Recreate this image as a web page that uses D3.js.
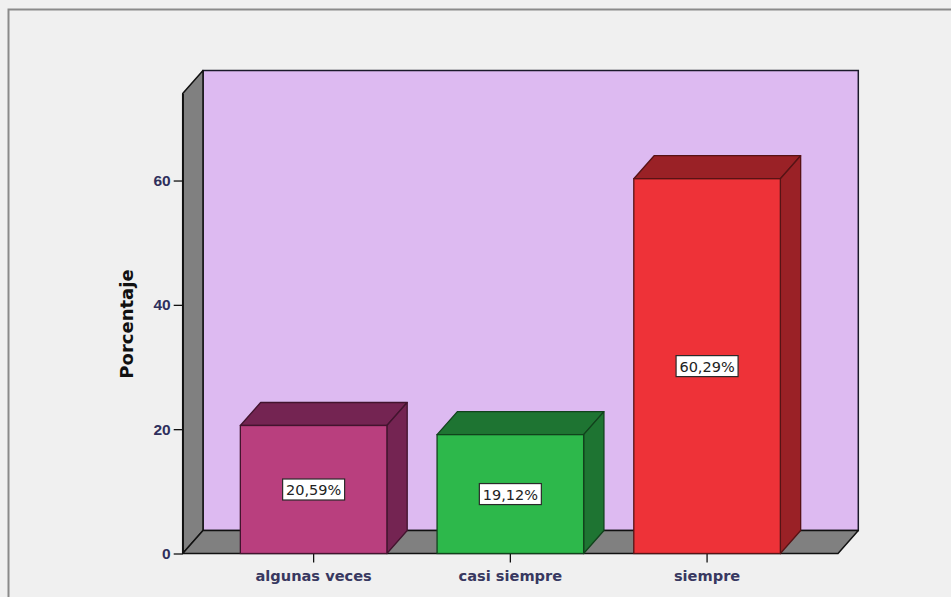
<!DOCTYPE html>
<html>
<head>
<meta charset="utf-8">
<script src="https://cdn.jsdelivr.net/npm/d3@7/dist/d3.min.js"></script>
<style>
  html, body { margin: 0; padding: 0; background: #f0f0f0; }
  svg { display: block; }
</style>
</head>
<body>
<script>
// Category data
const categories = ["algunas veces", "casi siempre", "siempre"];
const percentages = [20.59, 19.12, 60.29];
const frontColors = ["#b93f7e", "#2db84b", "#ee3238"];
const shadeColors = ["#742452", "#1e7432", "#9a2126"];
const yTicks = [0, 20, 40, 60];
const yMax = 74;

const W = 951, H = 597;
// plot box (front plane) and 3D depth offset
const plot = { left: 182.7, right: 838, top: 93.5, bottom: 553.5 };
const depth = { dx: 20.3, dy: 23 };

const svg = d3.select("body").append("svg")
  .attr("width", W).attr("height", H);

// outer frame
svg.append("rect")
  .attr("x", 8.5).attr("y", 9.5)
  .attr("width", W + 20).attr("height", H + 20)
  .attr("fill", "#f0f0f0")
  .attr("stroke", "#8a8a8a").attr("stroke-width", 2);

const x = d3.scaleBand()
  .domain(categories)
  .range([plot.left, plot.right])
  .paddingInner(0.255)
  .paddingOuter(0.293);

const y = d3.scaleLinear()
  .domain([0, yMax])
  .range([plot.bottom, plot.top]);

const dx = depth.dx, dy = depth.dy;
const y0 = y(0), yTop = y(yMax);
const line = d3.line();

// back wall
svg.append("rect")
  .attr("x", plot.left + dx).attr("y", yTop - dy)
  .attr("width", plot.right - plot.left).attr("height", y0 - yTop)
  .attr("fill", "#ddbaf1").attr("stroke", "#1a1a2a").attr("stroke-width", 1.5);

// left wall
svg.append("path")
  .attr("d", line([[plot.left, y0], [plot.left, yTop], [plot.left + dx, yTop - dy], [plot.left + dx, y0 - dy]]) + "Z")
  .attr("fill", "#808080").attr("stroke", "#111").attr("stroke-width", 1.5)
  .attr("stroke-linejoin", "round");

// floor
svg.append("path")
  .attr("d", line([[plot.left, y0], [plot.left + dx, y0 - dy], [plot.right + dx, y0 - dy], [plot.right, y0]]) + "Z")
  .attr("fill", "#808080").attr("stroke", "#111").attr("stroke-width", 1.5)
  .attr("stroke-linejoin", "round");

// y axis along the front edge of the left wall
const yAxis = d3.axisLeft(y).tickValues(yTicks).tickSize(9).tickSizeOuter(0)
  .tickPadding(3).tickFormat(d3.format("d"));
const yg = svg.append("g").attr("transform", `translate(${plot.left},0)`).call(yAxis);
yg.select(".domain").attr("stroke", "#111").attr("stroke-width", 1.5);
yg.selectAll(".tick line").attr("stroke", "#111").attr("stroke-width", 1.3);
yg.selectAll(".tick text")
  .attr("fill", "#2f2f5c")
  .style("font-family", "'Liberation Sans', Arial, sans-serif")
  .style("font-weight", "bold")
  .style("font-size", "15.5px");

// x axis along the front floor edge
const xAxis = d3.axisBottom(x).tickSize(9).tickSizeOuter(0).tickPadding(8);
const xg = svg.append("g").attr("transform", `translate(0,${y0})`).call(xAxis);
xg.select(".domain").remove();
xg.selectAll(".tick line").attr("stroke", "#111").attr("stroke-width", 1.3);
xg.selectAll(".tick text")
  .attr("fill", "#383860")
  .style("font-family", "'DejaVu Sans', Verdana, sans-serif")
  .style("font-weight", "bold")
  .style("font-size", "14.6px");

// bars
const bars = svg.append("g").selectAll("g.bar")
  .data(categories.map((c, i) => ({ c, v: percentages[i], i })))
  .join("g").attr("class", "bar");

bars.each(function(d) {
  const g = d3.select(this);
  const x0 = x(d.c), x1 = x0 + x.bandwidth(), yv = y(d.v);
  const edge = d3.color(shadeColors[d.i]).darker(1.6).formatHex();
  // top face
  g.append("path")
    .attr("d", line([[x0, yv], [x0 + dx, yv - dy], [x1 + dx, yv - dy], [x1, yv]]) + "Z")
    .attr("fill", shadeColors[d.i]).attr("stroke", edge).attr("stroke-width", 1.3)
    .attr("stroke-linejoin", "round");
  // side face
  g.append("path")
    .attr("d", line([[x1, yv], [x1 + dx, yv - dy], [x1 + dx, y0 - dy], [x1, y0]]) + "Z")
    .attr("fill", shadeColors[d.i]).attr("stroke", edge).attr("stroke-width", 1.3)
    .attr("stroke-linejoin", "round");
  // front face
  g.append("rect")
    .attr("x", x0).attr("y", yv).attr("width", x1 - x0).attr("height", y0 - yv)
    .attr("fill", frontColors[d.i]).attr("stroke", edge).attr("stroke-width", 1.3);
  // value label
  const cx = x0 + (x1 - x0) / 2, cy = (yv + y0) / 2;
  g.append("rect")
    .attr("x", cx - 31).attr("y", cy - 10.5).attr("width", 62).attr("height", 21)
    .attr("fill", "#ffffff").attr("stroke", "#2a2a2a").attr("stroke-width", 1.2);
  g.append("text")
    .attr("x", cx).attr("y", cy + 5.5)
    .attr("text-anchor", "middle")
    .attr("fill", "#222")
    .style("font-family", "'DejaVu Sans', Verdana, sans-serif")
    .style("font-size", "14.5px")
    .text(d3.format(".2f")(d.v).replace(".", ",") + "%");
});

// y axis title
svg.append("text")
  .attr("transform", `translate(133,324) rotate(-90)`)
  .attr("text-anchor", "middle")
  .attr("fill", "#111")
  .style("font-family", "'DejaVu Sans', Verdana, sans-serif")
  .style("font-weight", "bold")
  .style("font-size", "18px")
  .text("Porcentaje");
</script>
</body>
</html>
